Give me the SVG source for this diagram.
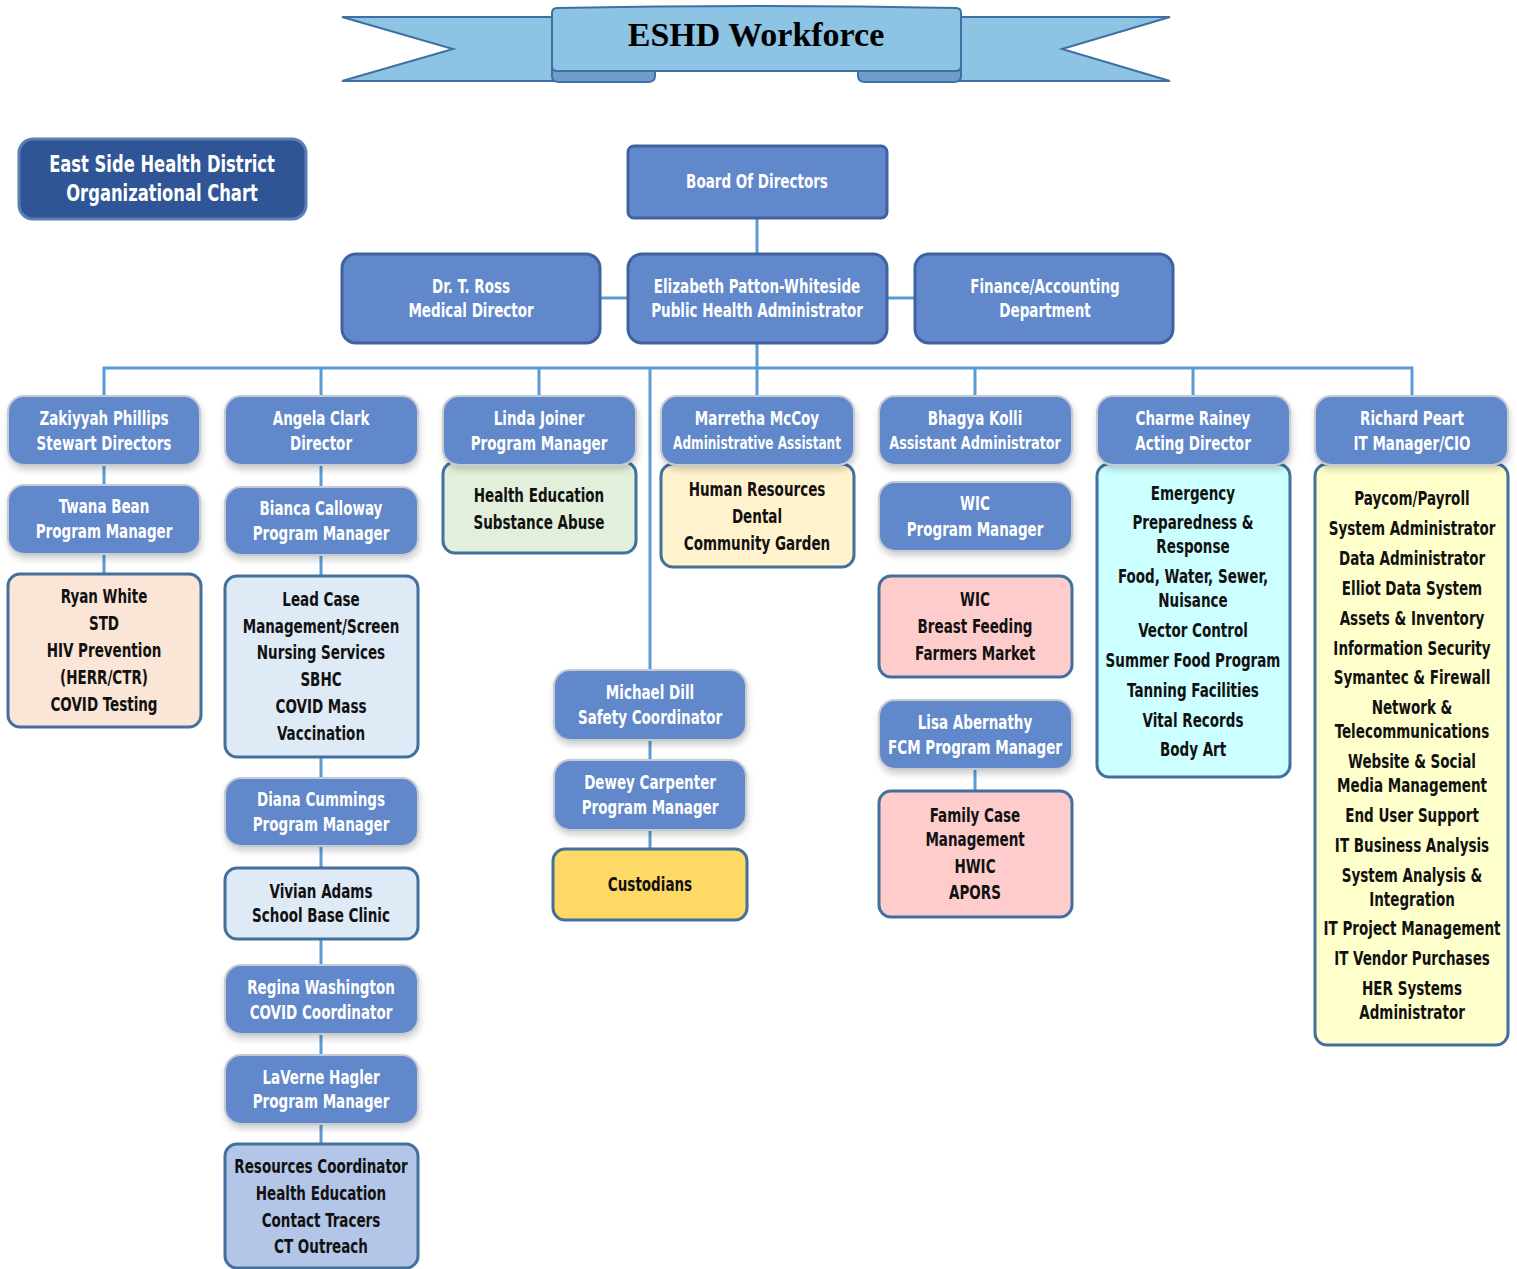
<svg xmlns="http://www.w3.org/2000/svg" width="1517" height="1269" viewBox="0 0 1517 1269">
<style>
.t{font-family:'Liberation Sans Narrow','DejaVu Sans Condensed','DejaVu Sans',sans-serif;font-weight:bold;font-size:19px;text-anchor:middle;transform-box:fill-box;transform-origin:center;transform:scaleX(0.79)}
.w{fill:#ffffff}
.k{fill:#111111}
.main{fill:#6088CB;stroke:#3E63A0;stroke-width:3}
.sub{fill:#6088CB;stroke:#C5CAD3;stroke-width:2;filter:url(#sh)}
.box{stroke:#41719C;stroke-width:3}
.conn line{stroke:#5B9BD5;stroke-width:3}
.rib{fill:#8DC3E3;stroke:#3F6FA3;stroke-width:2}
</style>
<defs>
<filter id="sh" x="-10%" y="-10%" width="125%" height="135%">
<feDropShadow dx="1" dy="4" stdDeviation="3" flood-color="#000000" flood-opacity="0.18"/>
</filter>
</defs>
<rect width="1517" height="1269" fill="#ffffff"/>

<g id="banner">
<polygon class="rib" points="342,17 560,17 560,81 342,81 453,49"/>
<polygon class="rib" points="1170,17 953,17 953,81 1170,81 1062,49"/>
<path d="M552,66 L655,66 L655,76 Q655,82 648,82 L559,82 Q552,82 552,76 Z" fill="#6E9DCB" stroke="#3F6FA3" stroke-width="2"/>
<path d="M858,66 L961,66 L961,76 Q961,82 954,82 L865,82 Q858,82 858,76 Z" fill="#6E9DCB" stroke="#3F6FA3" stroke-width="2"/>
<path class="rib" d="M557,8 Q756,4 956,8 Q961,8 961,13 L961,66 Q961,71 956,71 L557,71 Q552,71 552,66 L552,13 Q552,8 557,8 Z"/>
<line x1="655" y1="71" x2="655" y2="76" stroke="#3F6FA3" stroke-width="2"/>
<line x1="858" y1="71" x2="858" y2="76" stroke="#3F6FA3" stroke-width="2"/>
<text x="756" y="46" font-family="'Liberation Serif','DejaVu Serif',serif" font-weight="bold" font-size="34" text-anchor="middle" fill="#000000">ESHD Workforce</text>
</g>

<g id="title">
<rect x="19" y="139" width="287" height="80" rx="14" fill="#2F5597" stroke="#5A7FB5" stroke-width="3"/>
<text class="t w" x="162" y="172" style="font-size:23px">East Side Health District</text>
<text class="t w" x="162" y="201" style="font-size:23px">Organizational Chart</text>
</g>

<g class="conn" id="connectors">
<line x1="757" y1="218" x2="757" y2="254"/>
<line x1="600" y1="298" x2="628" y2="298"/>
<line x1="887" y1="298" x2="915" y2="298"/>
<line x1="757" y1="343" x2="757" y2="368"/>
<line x1="103" y1="368" x2="1413" y2="368"/>
<line x1="104" y1="367" x2="104" y2="396"/>
<line x1="321" y1="367" x2="321" y2="396"/>
<line x1="539" y1="367" x2="539" y2="396"/>
<line x1="757" y1="367" x2="757" y2="396"/>
<line x1="975" y1="367" x2="975" y2="396"/>
<line x1="1193" y1="367" x2="1193" y2="396"/>
<line x1="1412" y1="367" x2="1412" y2="396"/>
<line x1="650" y1="367" x2="650" y2="670"/>
<line x1="104" y1="465" x2="104" y2="485"/>
<line x1="104" y1="554" x2="104" y2="574"/>
<line x1="321" y1="465" x2="321" y2="487"/>
<line x1="321" y1="555" x2="321" y2="576"/>
<line x1="321" y1="757" x2="321" y2="778"/>
<line x1="321" y1="846" x2="321" y2="868"/>
<line x1="321" y1="939" x2="321" y2="965"/>
<line x1="321" y1="1034" x2="321" y2="1055"/>
<line x1="321" y1="1124" x2="321" y2="1144"/>
<line x1="650" y1="740" x2="650" y2="760"/>
<line x1="650" y1="830" x2="650" y2="849"/>
<line x1="975" y1="769" x2="975" y2="791"/>
</g>

<g id="board">
<rect class="main" x="628" y="146" width="259" height="72" rx="6"/>
<text class="t w" x="757" y="188">Board Of Directors</text>
</g>
<g id="ross">
<rect class="main" x="342" y="254" width="258" height="89" rx="14"/>
<text class="t w" x="471" y="293">Dr. T. Ross</text>
<text class="t w" x="471" y="317">Medical Director</text>
</g>
<g id="elizabeth">
<rect class="main" x="628" y="254" width="259" height="89" rx="14"/>
<text class="t w" x="757" y="293">Elizabeth Patton-Whiteside</text>
<text class="t w" x="757" y="317">Public Health Administrator</text>
</g>
<g id="finance">
<rect class="main" x="915" y="254" width="258" height="89" rx="14"/>
<text class="t w" x="1045" y="293">Finance/Accounting</text>
<text class="t w" x="1045" y="317">Department</text>
</g>

<!-- column 1 -->
<g id="zakiyyah">
<rect class="sub" x="8" y="396" width="192" height="69" rx="16"/>
<text class="t w" x="104" y="425">Zakiyyah Phillips</text>
<text class="t w" x="104" y="450">Stewart Directors</text>
</g>
<g id="twana">
<rect class="sub" x="8" y="485" width="192" height="69" rx="16"/>
<text class="t w" x="104" y="513">Twana Bean</text>
<text class="t w" x="104" y="538">Program Manager</text>
</g>
<g id="ryan">
<rect class="box" x="8" y="574" width="193" height="153" rx="12" fill="#FBE5D6"/>
<text class="t k" x="104" y="603">Ryan White</text>
<text class="t k" x="104" y="630">STD</text>
<text class="t k" x="104" y="657">HIV Prevention</text>
<text class="t k" x="104" y="684">(HERR/CTR)</text>
<text class="t k" x="104" y="711">COVID Testing</text>
</g>

<!-- column 2 -->
<g id="angela">
<rect class="sub" x="225" y="396" width="193" height="69" rx="16"/>
<text class="t w" x="321" y="425">Angela Clark</text>
<text class="t w" x="321" y="450">Director</text>
</g>
<g id="bianca">
<rect class="sub" x="225" y="487" width="193" height="68" rx="16"/>
<text class="t w" x="321" y="515">Bianca Calloway</text>
<text class="t w" x="321" y="540">Program Manager</text>
</g>
<g id="leadcase">
<rect class="box" x="225" y="576" width="193" height="181" rx="12" fill="#DEEAF6"/>
<text class="t k" x="321" y="606">Lead Case</text>
<text class="t k" x="321" y="633">Management/Screen</text>
<text class="t k" x="321" y="659">Nursing Services</text>
<text class="t k" x="321" y="686">SBHC</text>
<text class="t k" x="321" y="713">COVID Mass</text>
<text class="t k" x="321" y="740">Vaccination</text>
</g>
<g id="diana">
<rect class="sub" x="225" y="778" width="193" height="68" rx="16"/>
<text class="t w" x="321" y="806">Diana Cummings</text>
<text class="t w" x="321" y="831">Program Manager</text>
</g>
<g id="vivian">
<rect class="box" x="225" y="868" width="193" height="71" rx="12" fill="#DEEAF6"/>
<text class="t k" x="321" y="898">Vivian Adams</text>
<text class="t k" x="321" y="922">School Base Clinic</text>
</g>
<g id="regina">
<rect class="sub" x="225" y="965" width="193" height="69" rx="16"/>
<text class="t w" x="321" y="994">Regina Washington</text>
<text class="t w" x="321" y="1019">COVID Coordinator</text>
</g>
<g id="laverne">
<rect class="sub" x="225" y="1055" width="193" height="69" rx="16"/>
<text class="t w" x="321" y="1084">LaVerne Hagler</text>
<text class="t w" x="321" y="1108">Program Manager</text>
</g>
<g id="resources">
<rect class="box" x="225" y="1144" width="193" height="124" rx="12" fill="#B4C6E7"/>
<text class="t k" x="321" y="1173">Resources Coordinator</text>
<text class="t k" x="321" y="1200">Health Education</text>
<text class="t k" x="321" y="1227">Contact Tracers</text>
<text class="t k" x="321" y="1253">CT Outreach</text>
</g>

<!-- column 3 -->
<g id="healthed">
<rect class="box" x="443" y="462" width="193" height="91" rx="12" fill="#E2EFDA"/>
<text class="t k" x="539" y="502">Health Education</text>
<text class="t k" x="539" y="529">Substance Abuse</text>
</g>
<g id="linda">
<rect class="sub" x="443" y="396" width="193" height="69" rx="16"/>
<text class="t w" x="539" y="425">Linda Joiner</text>
<text class="t w" x="539" y="450">Program Manager</text>
</g>

<!-- column 4 -->
<g id="hr">
<rect class="box" x="661" y="464" width="193" height="103" rx="12" fill="#FFF2CC"/>
<text class="t k" x="757" y="496">Human Resources</text>
<text class="t k" x="757" y="523">Dental</text>
<text class="t k" x="757" y="550">Community Garden</text>
</g>
<g id="marretha">
<rect class="sub" x="661" y="396" width="193" height="69" rx="16"/>
<text class="t w" x="757" y="425">Marretha McCoy</text>
<text class="t w" x="757" y="449" style="font-size:17px">Administrative Assistant</text>
</g>

<!-- middle column -->
<g id="michael">
<rect class="sub" x="554" y="670" width="192" height="70" rx="16"/>
<text class="t w" x="650" y="699">Michael Dill</text>
<text class="t w" x="650" y="724">Safety Coordinator</text>
</g>
<g id="dewey">
<rect class="sub" x="554" y="760" width="192" height="70" rx="16"/>
<text class="t w" x="650" y="789">Dewey Carpenter</text>
<text class="t w" x="650" y="814">Program Manager</text>
</g>
<g id="custodians">
<rect class="box" x="553" y="849" width="194" height="71" rx="12" fill="#FFD966"/>
<text class="t k" x="650" y="891">Custodians</text>
</g>

<!-- column 5 -->
<g id="bhagya">
<rect class="sub" x="879" y="396" width="193" height="69" rx="16"/>
<text class="t w" x="975" y="425">Bhagya Kolli</text>
<text class="t w" x="975" y="449" style="font-size:18px">Assistant Administrator</text>
</g>
<g id="wicpm">
<rect class="sub" x="879" y="482" width="193" height="69" rx="16"/>
<text class="t w" x="975" y="510">WIC</text>
<text class="t w" x="975" y="536">Program Manager</text>
</g>
<g id="wicbox">
<rect class="box" x="879" y="576" width="193" height="101" rx="12" fill="#FFCCCC"/>
<text class="t k" x="975" y="606">WIC</text>
<text class="t k" x="975" y="633">Breast Feeding</text>
<text class="t k" x="975" y="660">Farmers Market</text>
</g>
<g id="lisa">
<rect class="sub" x="879" y="700" width="193" height="69" rx="16"/>
<text class="t w" x="975" y="729">Lisa Abernathy</text>
<text class="t w" x="975" y="754">FCM Program Manager</text>
</g>
<g id="familycase">
<rect class="box" x="879" y="791" width="193" height="126" rx="12" fill="#FFCCCC"/>
<text class="t k" x="975" y="822">Family Case</text>
<text class="t k" x="975" y="846">Management</text>
<text class="t k" x="975" y="873">HWIC</text>
<text class="t k" x="975" y="899">APORS</text>
</g>

<!-- column 6 -->
<g id="emergency">
<rect class="box" x="1097" y="464" width="193" height="313" rx="12" fill="#CCFFFF"/>
<text class="t k" x="1193" y="500">Emergency</text>
<text class="t k" x="1193" y="529">Preparedness &amp;</text>
<text class="t k" x="1193" y="553">Response</text>
<text class="t k" x="1193" y="583">Food, Water, Sewer,</text>
<text class="t k" x="1193" y="607">Nuisance</text>
<text class="t k" x="1193" y="637">Vector Control</text>
<text class="t k" x="1193" y="667">Summer Food Program</text>
<text class="t k" x="1193" y="697">Tanning Facilities</text>
<text class="t k" x="1193" y="727">Vital Records</text>
<text class="t k" x="1193" y="756">Body Art</text>
</g>
<g id="charme">
<rect class="sub" x="1097" y="396" width="193" height="69" rx="16"/>
<text class="t w" x="1193" y="425">Charme Rainey</text>
<text class="t w" x="1193" y="450">Acting Director</text>
</g>

<!-- column 7 -->
<g id="itbox">
<rect class="box" x="1315" y="464" width="193" height="581" rx="12" fill="#FFFFCC"/>
<text class="t k" x="1412" y="505">Paycom/Payroll</text>
<text class="t k" x="1412" y="535">System Administrator</text>
<text class="t k" x="1412" y="565">Data Administrator</text>
<text class="t k" x="1412" y="595">Elliot Data System</text>
<text class="t k" x="1412" y="625">Assets &amp; Inventory</text>
<text class="t k" x="1412" y="655">Information Security</text>
<text class="t k" x="1412" y="684">Symantec &amp; Firewall</text>
<text class="t k" x="1412" y="714">Network &amp;</text>
<text class="t k" x="1412" y="738">Telecommunications</text>
<text class="t k" x="1412" y="768">Website &amp; Social</text>
<text class="t k" x="1412" y="792">Media Management</text>
<text class="t k" x="1412" y="822">End User Support</text>
<text class="t k" x="1412" y="852">IT Business Analysis</text>
<text class="t k" x="1412" y="882">System Analysis &amp;</text>
<text class="t k" x="1412" y="906">Integration</text>
<text class="t k" x="1412" y="935">IT Project Management</text>
<text class="t k" x="1412" y="965">IT Vendor Purchases</text>
<text class="t k" x="1412" y="995">HER Systems</text>
<text class="t k" x="1412" y="1019">Administrator</text>
</g>
<g id="richard">
<rect class="sub" x="1315" y="396" width="193" height="69" rx="16"/>
<text class="t w" x="1412" y="425">Richard Peart</text>
<text class="t w" x="1412" y="450">IT Manager/CIO</text>
</g>
</svg>
